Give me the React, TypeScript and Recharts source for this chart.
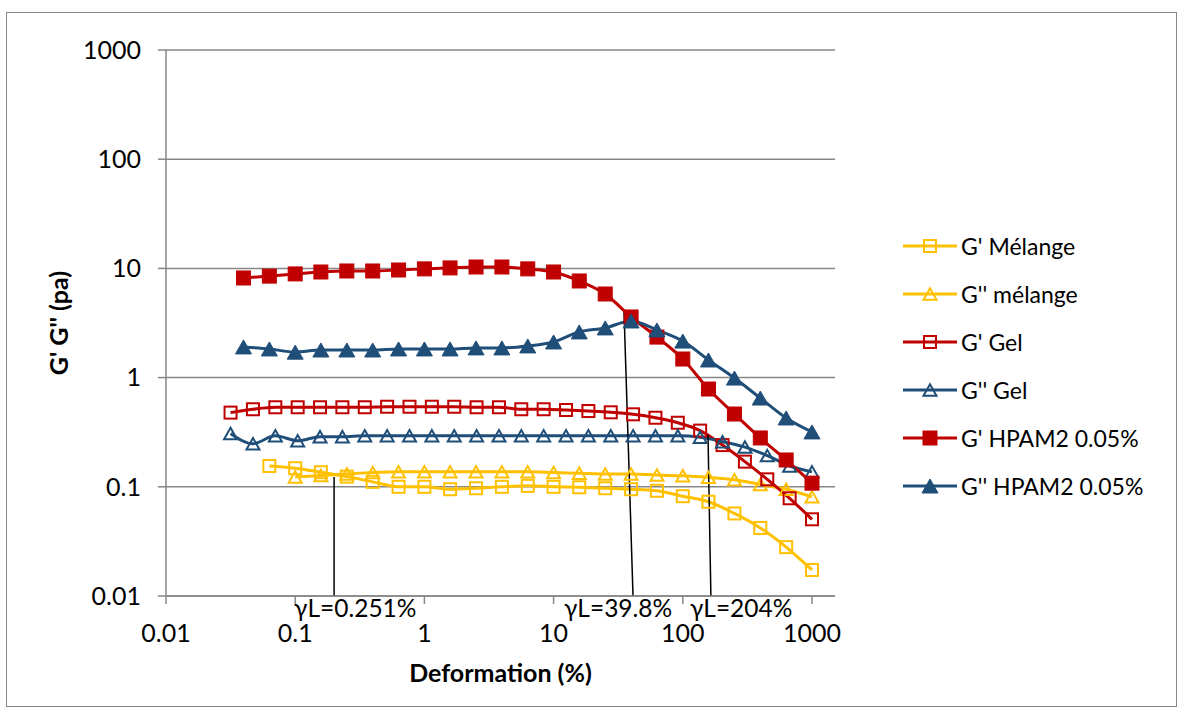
import React from 'react';
import {
  LineChart,
  Line,
  XAxis,
  YAxis,
  CartesianGrid,
  Legend,
  ReferenceLine,
} from 'recharts';

const FONT = 'Lato, "Open Sans", sans-serif';
const GRID = '#878787';

// strain steps (%) of the HPAM2 / mélange sweeps
const strainHpam = [
  0.0398, 0.0631, 0.1, 0.158, 0.251, 0.398, 0.631, 1, 1.58, 2.51, 3.98, 6.31,
  10, 15.8, 25.1, 39.8, 63.1, 100, 158, 251, 398, 631, 1000,
];
const strainMelangeG1 = [
  0.0631, 0.1, 0.158, 0.251, 0.398, 0.631, 1, 1.58, 2.51, 3.98, 6.31, 10,
  15.8, 25.1, 39.8, 63.1, 100, 158, 251, 398, 631, 1000,
];
const strainMelangeG2 = [
  0.1, 0.158, 0.251, 0.398, 0.631, 1, 1.58, 2.51, 3.98, 6.31, 10, 15.8, 25.1,
  39.8, 63.1, 100, 158, 251, 398, 631, 1000,
];
// strain steps (%) of the gel sweep
const strainGel = [
  0.0316, 0.0471, 0.0702, 0.1045, 0.1557, 0.2319, 0.3455, 0.5147, 0.7668,
  1.142, 1.702, 2.535, 3.776, 5.623, 8.377, 12.48, 18.59, 27.69, 41.25, 61.44,
  91.53, 136.3, 203.1, 302.6, 450.7, 671.4, 1000,
];

// moduli (Pa)
const gPrimeMelange = [
  0.155, 0.148, 0.136, 0.124, 0.111, 0.1, 0.1, 0.095, 0.097, 0.1, 0.102, 0.1,
  0.099, 0.097, 0.095, 0.092, 0.082, 0.073, 0.057, 0.042, 0.028, 0.0173,
];
const gSecondMelange = [
  0.123, 0.127, 0.131, 0.135, 0.137, 0.137, 0.137, 0.137, 0.137, 0.137, 0.135,
  0.133, 0.131, 0.131, 0.128, 0.126, 0.122, 0.116, 0.105, 0.095, 0.081,
];
const gPrimeGel = [
  0.478, 0.513, 0.535, 0.535, 0.535, 0.535, 0.535, 0.541, 0.541, 0.541, 0.541,
  0.535, 0.535, 0.513, 0.513, 0.505, 0.494, 0.481, 0.461, 0.429, 0.386, 0.327,
  0.241, 0.17, 0.117, 0.0785, 0.0504,
];
const gSecondGel = [
  0.308, 0.248, 0.293, 0.264, 0.288, 0.288, 0.293, 0.293, 0.293, 0.293, 0.293,
  0.293, 0.293, 0.293, 0.293, 0.293, 0.293, 0.293, 0.293, 0.293, 0.293, 0.284,
  0.259, 0.231, 0.193, 0.155, 0.137,
];
const gPrimeHpam = [
  8.17, 8.5, 8.9, 9.27, 9.47, 9.47, 9.67, 9.9, 10.1, 10.3, 10.3, 9.9, 9.27,
  7.67, 5.83, 3.59, 2.35, 1.48, 0.786, 0.464, 0.28, 0.176, 0.108,
];
const gSecondHpam = [
  1.91, 1.83, 1.71, 1.79, 1.79, 1.79, 1.83, 1.83, 1.83, 1.87, 1.87, 1.95, 2.12,
  2.62, 2.85, 3.3, 2.73, 2.16, 1.45, 0.99, 0.65, 0.427, 0.318,
];

const xTicks = [0.01, 0.1, 1, 10, 100, 1000];
const yTicks = [0.01, 0.1, 1, 10, 100, 1000];

// linear viscoelastic limits
const limits = [
  { text: 'γL=0.251%', top: { x: 0.2, y: 0.123 }, bottom: { x: 0.2, y: 0.01 }, shift: -40 },
  { text: 'γL=39.8%', top: { x: 35.1, y: 3.99 }, bottom: { x: 41.2, y: 0.01 }, shift: -60 },
  { text: 'γL=204%', top: { x: 156.7, y: 0.299 }, bottom: { x: 165, y: 0.01 }, shift: -18 },
];

const YELLOW = '#FFC000';
const RED = '#C00000';
const BLUE = '#1F4E79';

type Shape = 'square' | 'triangle';

const series = [
  { name: "G' Mélange", xs: strainMelangeG1, ys: gPrimeMelange, color: YELLOW, shape: 'square' as Shape, filled: false },
  { name: "G'' mélange", xs: strainMelangeG2, ys: gSecondMelange, color: YELLOW, shape: 'triangle' as Shape, filled: false },
  { name: "G' Gel", xs: strainGel, ys: gPrimeGel, color: RED, shape: 'square' as Shape, filled: false },
  { name: "G'' Gel", xs: strainGel, ys: gSecondGel, color: BLUE, shape: 'triangle' as Shape, filled: false },
  { name: "G' HPAM2 0.05%", xs: strainHpam, ys: gPrimeHpam, color: RED, shape: 'square' as Shape, filled: true },
  { name: "G'' HPAM2 0.05%", xs: strainHpam, ys: gSecondHpam, color: BLUE, shape: 'triangle' as Shape, filled: true },
];

const toPoints = (xs: number[], ys: number[]) => ys.map((y, i) => ({ x: xs[i], y }));

function Marker({ cx, cy, shape, filled, color }: any) {
  if (cx == null || cy == null) return null;
  if (shape === 'square') {
    const s = filled ? 14 : 12;
    return (
      <rect
        x={cx - s / 2}
        y={cy - s / 2}
        width={s}
        height={s}
        fill={filled ? color : 'none'}
        stroke={color}
        strokeWidth={filled ? 1 : 2}
      />
    );
  }
  const w = filled ? 16 : 13;
  const h = filled ? 14 : 11.5;
  const pts = `${cx},${cy - h / 2} ${cx + w / 2},${cy + h / 2} ${cx - w / 2},${cy + h / 2}`;
  return <polygon points={pts} fill={filled ? color : 'none'} stroke={color} strokeWidth={filled ? 1 : 2} />;
}

function GammaTag({ viewBox, text, shift }: any) {
  if (!viewBox) return null;
  const { x, y, height } = viewBox;
  return (
    <text x={x + shift} y={y + height + 11} fontSize={24.5} fontFamily={FONT} fill="#000" dominantBaseline="central">
      {text}
    </text>
  );
}

function YTitle({ viewBox }: any) {
  const cx = viewBox.x + 58;
  const cy = viewBox.y + viewBox.height / 2;
  return (
    <text
      transform={`rotate(-90 ${cx} ${cy})`}
      x={cx}
      y={cy}
      textAnchor="middle"
      dominantBaseline="central"
      fontWeight={700}
      fontSize={25}
      fontFamily={FONT}
      fill="#000"
    >
      G' G'' (pa)
    </text>
  );
}

function XTitle({ viewBox }: any) {
  return (
    <text
      x={viewBox.x + viewBox.width / 2}
      y={viewBox.y + 76}
      textAnchor="middle"
      dominantBaseline="central"
      fontWeight={700}
      fontSize={25}
      fontFamily={FONT}
      fill="#000"
    >
      Deformation (%)
    </text>
  );
}

function LegendBox() {
  return (
    <div style={{ fontFamily: FONT, fontSize: 23, color: '#000' }}>
      {series.map((s) => (
        <div key={s.name} style={{ display: 'flex', alignItems: 'center', height: 48, whiteSpace: 'nowrap' }}>
          <svg width={58} height={20} style={{ flex: 'none' }}>
            <line x1={0} y1={10} x2={54} y2={10} stroke={s.color} strokeWidth={3} />
            <Marker cx={27} cy={10} shape={s.shape} filled={s.filled} color={s.color} />
          </svg>
          <span>{s.name}</span>
        </div>
      ))}
    </div>
  );
}

export default function App() {
  return (
    <div style={{ position: 'absolute', left: 0, top: 0, width: 1181, height: 713, background: '#fff' }}>
      <div
        style={{
          position: 'absolute',
          left: 6,
          top: 12,
          width: 1171,
          height: 695,
          border: `1.5px solid ${GRID}`,
          boxSizing: 'border-box',
        }}
      />
      <LineChart width={1181} height={713} margin={{ top: 50, right: 346, bottom: 57, left: 0 }}>
        <CartesianGrid vertical={false} stroke={GRID} strokeWidth={1.5} />
        <XAxis
          dataKey="x"
          type="number"
          scale="log"
          domain={[0.01, 1507]}
          allowDataOverflow
          ticks={xTicks}
          height={60}
          tickSize={8}
          tickMargin={20}
          stroke={GRID}
          strokeWidth={1.5}
          tick={{ fill: '#000', fontSize: 25, fontFamily: FONT }}
          label={<XTitle />}
        />
        <YAxis
          type="number"
          scale="log"
          domain={[0.01, 1000]}
          allowDataOverflow
          ticks={yTicks}
          width={166}
          tickSize={8}
          tickMargin={17}
          stroke={GRID}
          strokeWidth={1.5}
          tick={{ fill: '#000', fontSize: 25, fontFamily: FONT }}
          label={<YTitle />}
        />
        {series.map((s) => (
          <Line
            key={s.name}
            name={s.name}
            data={toPoints(s.xs, s.ys)}
            dataKey="y"
            type="monotone"
            stroke={s.color}
            strokeWidth={3}
            dot={(p: any) => (
              <Marker key={`${s.name}-${p.index}`} cx={p.cx} cy={p.cy} shape={s.shape} filled={s.filled} color={s.color} />
            )}
            activeDot={false}
            isAnimationActive={false}
          />
        ))}
        {limits.map((l) => (
          <ReferenceLine
            key={l.text}
            segment={[l.top, l.bottom]}
            stroke="#000"
            strokeWidth={1.5}
            label={<GammaTag text={l.text} shift={l.shift} />}
          />
        ))}
        <Legend
          layout="vertical"
          align="center"
          verticalAlign="middle"
          wrapperStyle={{ left: 903, top: 222 }}
          content={<LegendBox />}
        />
      </LineChart>
    </div>
  );
}
